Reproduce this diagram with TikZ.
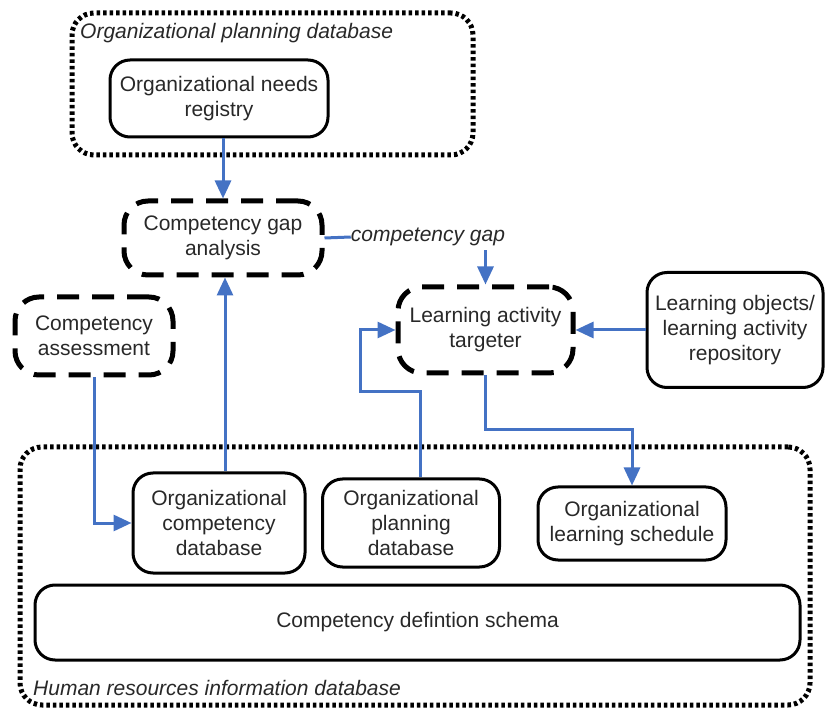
\documentclass[tikz,border=0pt]{standalone}
\usepackage{fontspec}
\setmainfont{Liberation Sans}
\usetikzlibrary{arrows.meta}
\definecolor{linkblue}{RGB}{68,114,196}
\definecolor{ink}{RGB}{40,40,40}
\begin{document}
\begin{tikzpicture}[x=1pt,y=-1pt,
  every node/.style={font=\fontsize{21}{25}\selectfont, text=ink, align=center, inner sep=0pt},
  solidbox/.style={draw=black, line width=3pt, rounded corners=20pt},
  dashbox/.style={draw=black, line width=5pt, rounded corners=24pt, dash pattern=on 22pt off 13pt},
  dotbox/.style={draw=black, line width=5pt, rounded corners=22pt, dash pattern=on 3.5pt off 3pt},
  grouplabel/.style={font=\fontsize{21}{25}\selectfont\itshape, anchor=west},
  arr/.style={draw=linkblue, line width=3pt, -{Triangle[length=18pt,width=16pt]}},
  link/.style={draw=linkblue, line width=3pt}]
\useasboundingbox (0,0) rectangle (825,708);

% planning database group
\node[dotbox, minimum width=401pt, minimum height=142pt] (topgroup) at (272.5,84) {};
\node[grouplabel] (toplabel) at (80,33) {Organizational planning database};
\node[solidbox, minimum width=218pt, minimum height=77pt] (needs) at (219,98.5) {Organizational needs\\registry};

% processes
\node[dashbox, minimum width=198pt, minimum height=74pt] (gap) at (223,238) {Competency gap\\analysis};
\node[font=\fontsize{21}{25}\selectfont\itshape] (gaplabel) at (428,237) {competency gap};
\node[dashbox, minimum width=158pt, minimum height=78pt] (assess) at (94,336) {Competency\\assessment};
\node[dashbox, minimum width=175pt, minimum height=86pt] (target) at (485.5,330) {Learning activity\\targeter};
\node[solidbox, minimum width=176pt, minimum height=115pt] (repo) at (735,330) {Learning objects/\\learning activity\\repository};

% human resources group
\node[dotbox, minimum width=790pt, minimum height=258pt] (botgroup) at (415,576) {};
\node[grouplabel] (botlabel) at (33,688) {Human resources information database};
\node[solidbox, minimum width=172pt, minimum height=100pt] (compdb) at (219,523) {Organizational\\competency\\database};
\node[solidbox, minimum width=177pt, minimum height=88pt] (plandb) at (411,523) {Organizational\\planning\\database};
\node[solidbox, minimum width=188pt, minimum height=73pt] (sched) at (632,523.5) {Organizational\\learning schedule};
\node[solidbox, minimum width=765pt, minimum height=75pt] (schema) at (417.5,622.5) {Competency defintion schema};

% bend points
\coordinate (bendA) at (360,392);
\coordinate (bendB) at (632,430);

% connectors
\draw[arr] (needs.south -| gap.north) -- (gap.north);
\draw[link] (gap.east) -- (gaplabel.west);
\draw[arr] (target.north |- gaplabel.south) ++(0,4) -- (target.north);
\draw[arr] (repo.west) -- (target.east);
\draw[arr] (assess.south) |- (compdb.west);
\draw[arr] ([xshift=2pt]gap.south |- compdb.north) -- ([xshift=2pt]gap.south);
\draw[arr] ([xshift=9pt]plandb.north) |- (bendA) |- (target.west);
\draw[arr] (target.south) |- (bendB) -- (sched.north);
\end{tikzpicture}
\end{document}
